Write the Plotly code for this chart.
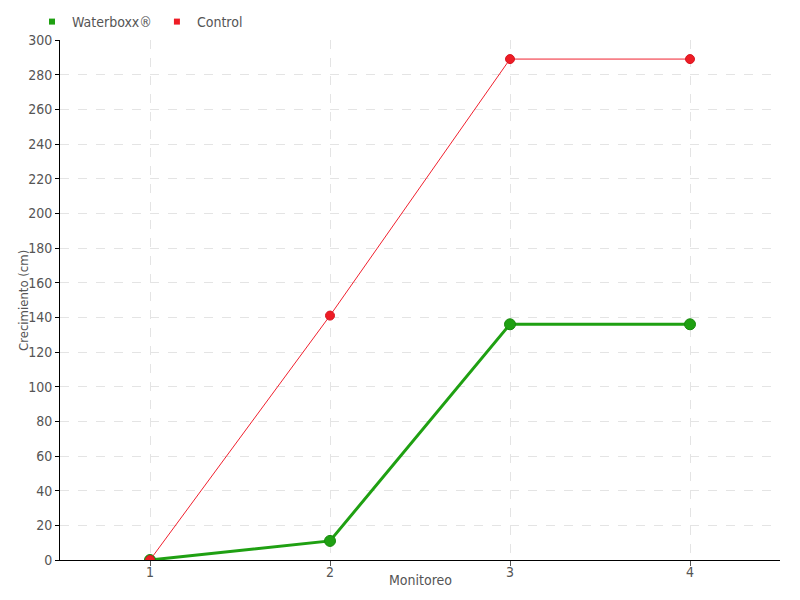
import plotly.graph_objects as go

monitoreo = [1, 2, 3, 4]
waterboxx = [0, 11, 136, 136]
control = [0, 141, 289, 289]
y_ticks = list(range(0, 301, 20))

font_family = "Liberation Sans Narrow, DejaVu Sans Condensed, sans-serif"
green = "#1fa012"
red = "#ee1c25"

fig = go.Figure()
fig.add_trace(go.Scatter(
    x=monitoreo, y=waterboxx, name="Waterboxx®", mode="lines+markers",
    line=dict(color=green, width=3), showlegend=False,
    marker=dict(size=11, color=green, line=dict(color="#178a0c", width=1)),
))
fig.add_trace(go.Scatter(
    x=monitoreo, y=control, name="Control", mode="lines+markers",
    line=dict(color="#f0202e", width=1), showlegend=False,
    marker=dict(size=9, color=red, line=dict(color="#d81520", width=1)),
))
# legend entries (square swatches)
fig.add_trace(go.Scatter(x=[None], y=[None], name="Waterboxx®", mode="markers",
                         marker=dict(symbol="square", size=6, color=green)))
fig.add_trace(go.Scatter(x=[None], y=[None], name="Control", mode="markers",
                         marker=dict(symbol="square", size=6, color=red)))

fig.update_layout(
    width=800, height=600,
    margin=dict(l=60, r=20, t=40, b=40, autoexpand=False),
    paper_bgcolor="white", plot_bgcolor="white",
    font=dict(family=font_family, size=14, color="#555555"),
    showlegend=True,
    legend=dict(orientation="h", x=0.04, y=0.99, xref="container", yref="container",
                xanchor="left", yanchor="top", font=dict(size=14, color="#555555"),
                itemwidth=30, traceorder="normal", tracegroupgap=0,
                bgcolor="rgba(0,0,0,0)"),
    xaxis=dict(
        range=[0.5, 4.5], tickvals=monitoreo, ticktext=[str(v) for v in monitoreo],
        showline=True, linecolor="black", linewidth=1,
        ticks="outside", ticklen=5, tickcolor="#555555",
        showgrid=True, gridcolor="#e4e4e4", griddash="dash", gridwidth=1,
        zeroline=False, automargin=True, ticklabelstandoff=-6,
        tickfont=dict(size=14),
    ),
    yaxis=dict(
        range=[0, 300], tickvals=y_ticks,
        showline=True, linecolor="black", linewidth=1,
        ticks="outside", ticklen=4, tickcolor="black",
        showgrid=True, gridcolor="#e4e4e4", griddash="dash", gridwidth=1,
        zeroline=False, automargin=True,
        tickfont=dict(size=14),
    ),
    annotations=[
        dict(text="Monitoreo", xref="paper", yref="paper", x=0.5, y=-0.0385,
             xanchor="center", yanchor="middle", showarrow=False,
             font=dict(size=14, color="#555555")),
        dict(text="Crecimiento (cm)", xref="paper", yref="paper", x=-0.0514, y=0.5,
             xanchor="center", yanchor="middle", textangle=-90, showarrow=False,
             font=dict(size=13, color="#555555")),
    ],
)

fig.write_html("out.html", config={"displayModeBar": False},
               post_script="document.body.style.margin='0px';")
